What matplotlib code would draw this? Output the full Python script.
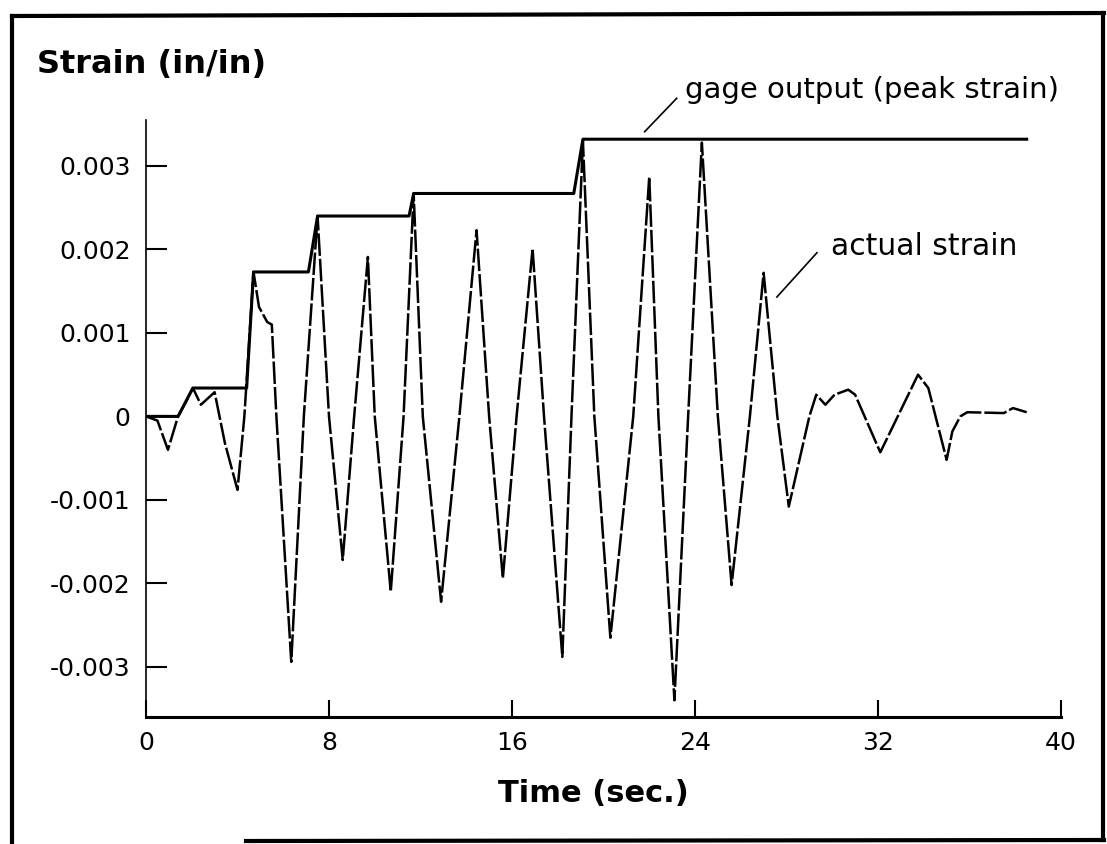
import matplotlib
matplotlib.use('Agg')
import matplotlib.pyplot as plt
from matplotlib.lines import Line2D

# actual strain (dashed trace), time in s, strain in in/in
actual_t = [0, 0.5, 0.96, 1.4, 1.7, 2.05, 2.4, 3.0, 3.45, 4.0, 4.3, 4.7, 4.94, 5.3, 5.5,
            5.7, 6.35, 6.9, 7.5, 8.0, 8.6, 9.1, 9.7, 10.0, 10.7, 11.26, 11.7, 12.1, 12.9,
            13.7, 14.45, 15.0, 15.6, 16.2, 16.9, 17.4, 18.2, 18.6, 19.1, 19.6, 20.3, 21.3,
            22.0, 22.4, 23.1, 23.7, 24.3, 25.0, 25.6, 26.4, 27.0, 27.6, 28.1, 29.0, 29.3,
            29.7, 30.1, 30.7, 31.0, 32.1, 33.75, 34.2, 35.0, 35.25, 35.6, 35.9, 37.5, 37.9,
            38.5]
actual_v = [0, -0.00005, -0.0004, 0.0, 0.00015, 0.00034, 0.00014, 0.00029, -0.00032,
            -0.00088, 0.0, 0.00173, 0.00131, 0.00113, 0.0011, 0.0, -0.00294, 0.0, 0.0024,
            0.0, -0.00172, 0.0, 0.00191, 0.0, -0.0021, 0.0, 0.00267, 0.0, -0.00222, 0.0,
            0.00223, 0.0, -0.00194, 0.0, 0.00201, 0.0, -0.00288, 0.0, 0.0033, 0.0,
            -0.00265, 0.0, 0.00287, 0.0, -0.0034, 0.0, 0.00328, 0.0, -0.00202, 0.0,
            0.00172, 0.0, -0.00108, 0.0, 0.00026, 0.00014, 0.00026, 0.00032, 0.00026,
            -0.00043, 0.0005, 0.00034, -0.00052, -0.00018, 0.0, 0.00005, 0.00004, 0.0001,
            0.00005]

# gage output (peak strain), solid step trace
gage_t = [0, 1.4, 2.05, 4.4, 4.7, 7.1, 7.5, 11.5, 11.7, 18.7, 19.1, 38.5]
gage_v = [0, 0, 0.00034, 0.00034, 0.00173, 0.00173, 0.0024, 0.0024, 0.00267, 0.00267,
          0.00332, 0.00332]

x_ticks = [0, 8, 16, 24, 32, 40]
x_labels = ['0', '8', '16', '24', '32', '40']
y_ticks = [0.003, 0.002, 0.001, 0, -0.001, -0.002, -0.003]
y_labels = ['0.003', '0.002', '0.001', '0', '-0.001', '-0.002', '-0.003']

W, H = 1107, 844
fig = plt.figure(figsize=(W / 100, H / 100), dpi=100)
fig.patch.set_facecolor('white')

# axes box in pixels: left 146, right 1061, top 120, bottom 717
ax = fig.add_axes([146 / W, (H - 717) / H, (1061 - 146) / W, (717 - 120) / H])
ax.set_xlim(0, 40)
ax.set_ylim(-0.0036, 0.00355)

ax.plot(actual_t, actual_v, color='black', lw=1.8, dashes=(9, 1.2))
ax.plot(gage_t, gage_v, color='black', lw=2.2)

for side in ['top', 'right']:
    ax.spines[side].set_visible(False)
ax.spines['left'].set_linewidth(1.2)
ax.spines['bottom'].set_linewidth(2.2)

ax.set_xticks(x_ticks)
ax.set_xticklabels(x_labels)
ax.set_yticks(y_ticks)
ax.set_yticklabels(y_labels)
ax.tick_params(axis='y', direction='in', length=15, width=1.5, pad=11, labelsize=18)
ax.tick_params(axis='x', direction='in', length=12, width=1.5, pad=10, labelsize=18)

# annotations with leader lines
ax.text(23.56, 0.00391, 'gage output (peak strain)', va='center', ha='left', fontsize=21,
        clip_on=False)
ax.plot([23.2, 21.8], [0.00381, 0.00341], color='black', lw=1.2, clip_on=False)
ax.text(29.95, 0.00203, 'actual strain', va='center', ha='left', fontsize=21.5)
ax.plot([29.33, 27.58], [0.00196, 0.00143], color='black', lw=1.2)

fig.text(37 / W, (H - 65) / H, 'Strain (in/in)', fontsize=23, fontweight='bold',
         ha='left', va='center')
fig.text(593 / W, (H - 793) / H, 'Time (sec.)', fontsize=22, fontweight='bold',
         ha='center', va='center')

# scanned frame around the figure
frame = dict(color='black', lw=3, transform=fig.transFigure)
fig.add_artist(Line2D([12 / W, 1104 / W], [(H - 16) / H, (H - 13) / H], **frame))
fig.add_artist(Line2D([12 / W, 12 / W], [(H - 16) / H, 0], **frame))
fig.add_artist(Line2D([1103 / W, 1103 / W], [(H - 13) / H, (H - 840) / H], **frame))
fig.add_artist(Line2D([246 / W, 1104 / W], [(H - 841) / H, (H - 840) / H], **frame))

fig.savefig('out.png', dpi=100)
